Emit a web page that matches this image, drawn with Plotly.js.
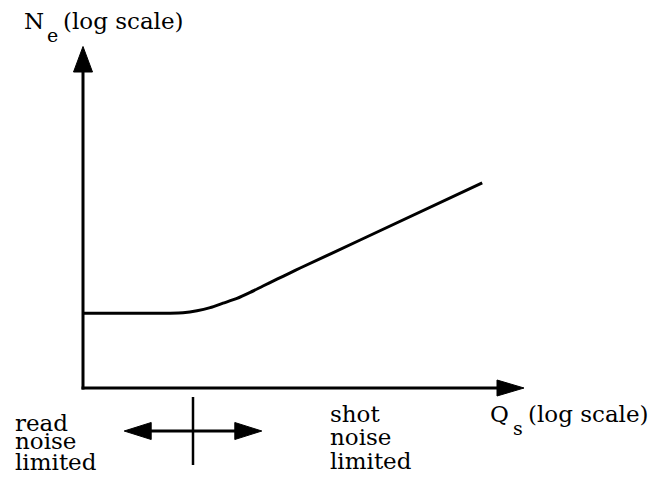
<!DOCTYPE html>
<html>
<head>
<meta charset="utf-8">
<script src="https://cdn.plot.ly/plotly-3.0.1.min.js"></script>
<style>
  html, body { margin: 0; padding: 0; background: #fff; }
  #chart { width: 653px; height: 477px; }
</style>
</head>
<body>
<div id="chart"></div>
<script>
// Noise vs. signal, both in log units: flat read-noise floor, then shot-noise slope of 1/2
const logSignal = [0, 2.18, 2.5, 2.85, 3.18, 3.5, 3.85, 4.18, 4.5, 4.85, 5.18, 5.43, 6.93, 9.98];
const logNoise  = [1.87, 1.87, 1.88, 1.93, 2.01, 2.12, 2.24, 2.39, 2.55, 2.72, 2.88, 3.0, 3.7, 5.13];

// Where the two regimes meet, and the extent of the two-way arrow around it
const crossover = 2.75;
const arrowHalfSpan = 1.72;

// Axis titles: symbol, subscript, scale note
const yTitle = ['N', 'e', '(log scale)'];
const xTitle = ['Q', 's', '(log scale)'];
const leftRegion = ['read', 'noise', 'limited'];
const rightRegion = ['shot', 'noise', 'limited'];

const INK = '#000';
const FONT = 'DejaVu Serif, Liberation Serif, Times New Roman, serif';
const FS = 23;
const FS_SUB = 19;

const shapes = [
  // axis lines
  { type: 'line', xref: 'paper', yref: 'paper', x0: -0.0034, x1: 0.96, y0: 0, y1: 0,
    line: { color: INK, width: 3 } },
  { type: 'line', xref: 'paper', yref: 'paper', x0: 0, x1: 0, y0: -0.0044, y1: 0.95,
    line: { color: INK, width: 3 } },
  // axis arrowheads
  { type: 'path', xref: 'paper', yref: 'paper', xsizemode: 'pixel', ysizemode: 'pixel',
    xanchor: 0, yanchor: 1, path: 'M0,1.5 L-9.5,-24 L9.5,-24 Z',
    fillcolor: INK, line: { color: INK, width: 1 } },
  { type: 'path', xref: 'paper', yref: 'paper', xsizemode: 'pixel', ysizemode: 'pixel',
    xanchor: 1, yanchor: 0, path: 'M1,0 L-26,8 L-26,-8 Z',
    fillcolor: INK, line: { color: INK, width: 1 } },
  // crossover tick below the axis
  { type: 'line', xref: 'x', yref: 'paper', x0: crossover, x1: crossover, y0: -0.0265, y1: -0.2265,
    line: { color: INK, width: 2.5 } },
  // two-way arrow shaft
  { type: 'line', xref: 'x', yref: 'paper',
    x0: crossover - arrowHalfSpan + 0.5, x1: crossover + arrowHalfSpan - 0.5,
    y0: -0.1265, y1: -0.1265, line: { color: INK, width: 3 } },
  // two-way arrow heads
  { type: 'path', xref: 'x', yref: 'paper', xsizemode: 'pixel', ysizemode: 'pixel',
    xanchor: crossover - arrowHalfSpan, yanchor: -0.1265, path: 'M0,0 L27,8.5 L27,-8.5 Z',
    fillcolor: INK, line: { color: INK, width: 1 } },
  { type: 'path', xref: 'x', yref: 'paper', xsizemode: 'pixel', ysizemode: 'pixel',
    xanchor: crossover + arrowHalfSpan, yanchor: -0.1265, path: 'M0,0 L-27,8.5 L-27,-8.5 Z',
    fillcolor: INK, line: { color: INK, width: 1 } }
];

function label(text, x, y, size) {
  return { text: text, xref: 'paper', yref: 'paper', x: x, y: y,
           xanchor: 'left', yanchor: 'middle', showarrow: false,
           font: { family: FONT, size: size || FS, color: INK } };
}

const leftY = [-0.1029, -0.1559, -0.2176];
const rightY = [-0.0756, -0.1441, -0.2147];

const annotations = [
  label(yTitle[0], -0.1386, 1.0794),
  label(yTitle[1], -0.0875, 1.0379, FS_SUB),
  label(yTitle[2], -0.0511, 1.0794),
  label(xTitle[0], 0.9205, -0.075),
  label(xTitle[1], 0.9716, -0.1188, FS_SUB),
  label(xTitle[2], 1.0057, -0.075)
].concat(
  leftRegion.map((t, i) => label(t, -0.159, leftY[i])),
  rightRegion.map((t, i) => label(t, 0.5568, rightY[i]))
);

const trace = {
  x: logSignal, y: logNoise, type: 'scatter', mode: 'lines',
  line: { color: INK, width: 3, shape: 'spline', smoothing: 0.6 },
  hoverinfo: 'skip'
};

const layout = {
  width: 653, height: 477,
  margin: { l: 83, r: 130, t: 48, b: 89 },
  paper_bgcolor: '#fff', plot_bgcolor: '#fff',
  showlegend: false,
  xaxis: { range: [0, 11], visible: false, fixedrange: true },
  yaxis: { range: [0, 8.5], visible: false, fixedrange: true },
  shapes: shapes,
  annotations: annotations
};

Plotly.newPlot('chart', [trace], layout, { staticPlot: true, displayModeBar: false });
</script>
</body>
</html>
